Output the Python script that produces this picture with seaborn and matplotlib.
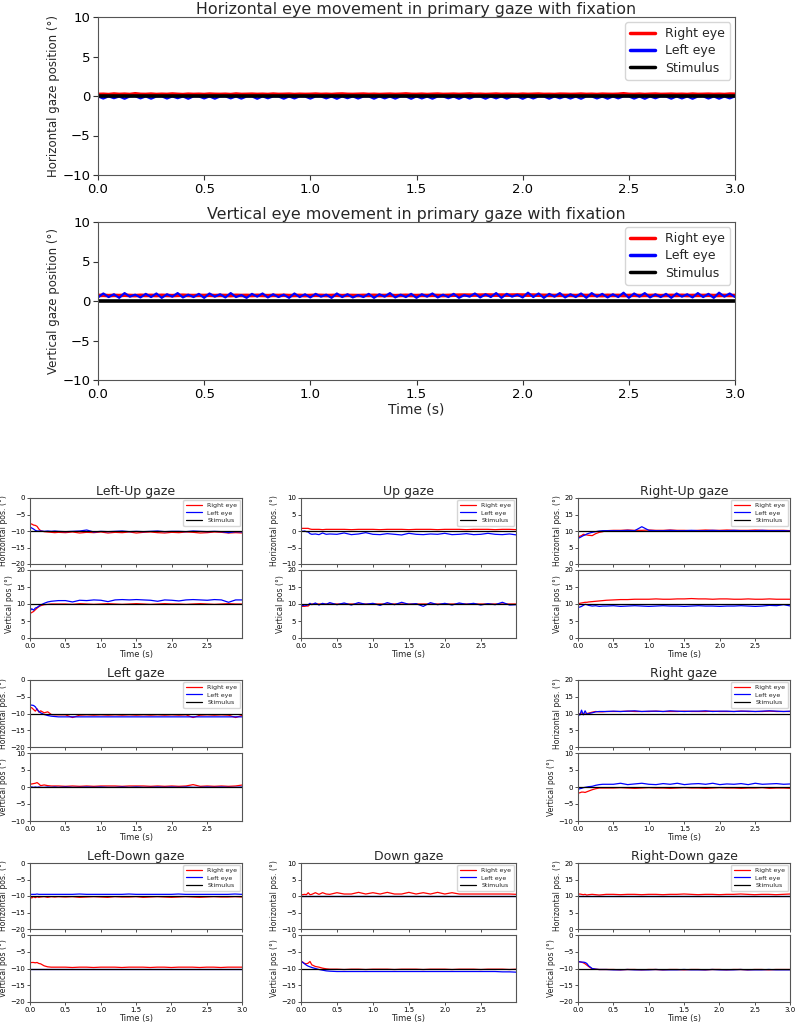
import matplotlib
matplotlib.use("Agg")
import matplotlib.pyplot as plt
import seaborn as sns

sns.set_theme(style="ticks")
plt.rcParams['font.family'] = ['DejaVu Sans']
plt.rcParams['axes.edgecolor'] = '#555555'
plt.rcParams['axes.linewidth'] = 0.8
plt.rcParams['xtick.color'] = '#333333'
plt.rcParams['ytick.color'] = '#333333'
plt.rcParams['xtick.labelcolor'] = 'black'
plt.rcParams['ytick.labelcolor'] = 'black'

# ---------------- data: primary gaze (fine time grid) ----------------
t_fine = [0.000, 0.025, 0.050, 0.075, 0.100, 0.125, 0.150, 0.175, 0.200, 0.225,
          0.250, 0.275, 0.300, 0.325, 0.350, 0.375, 0.400, 0.425, 0.450, 0.475,
          0.500, 0.525, 0.550, 0.575, 0.600, 0.625, 0.650, 0.675, 0.700, 0.725,
          0.750, 0.775, 0.800, 0.825, 0.850, 0.875, 0.900, 0.925, 0.950, 0.975,
          1.000, 1.025, 1.050, 1.075, 1.100, 1.125, 1.150, 1.175, 1.200, 1.225,
          1.250, 1.275, 1.300, 1.325, 1.350, 1.375, 1.400, 1.425, 1.450, 1.475,
          1.500, 1.525, 1.550, 1.575, 1.600, 1.625, 1.650, 1.675, 1.700, 1.725,
          1.750, 1.775, 1.800, 1.825, 1.850, 1.875, 1.900, 1.925, 1.950, 1.975,
          2.000, 2.025, 2.050, 2.075, 2.100, 2.125, 2.150, 2.175, 2.200, 2.225,
          2.250, 2.275, 2.300, 2.325, 2.350, 2.375, 2.400, 2.425, 2.450, 2.475,
          2.500, 2.525, 2.550, 2.575, 2.600, 2.625, 2.650, 2.675, 2.700, 2.725,
          2.750, 2.775, 2.800, 2.825, 2.850, 2.875, 2.900, 2.925, 2.950, 2.975,
          3.000]

prim_h_right = [0.20, 0.22, 0.18, 0.25, 0.20, 0.23, 0.19, 0.28, 0.21, 0.20,
                0.24, 0.19, 0.22, 0.20, 0.25, 0.21, 0.18, 0.23, 0.20, 0.22,
                0.19, 0.24, 0.21, 0.20, 0.22, 0.18, 0.25, 0.20, 0.21, 0.23,
                0.20, 0.22, 0.19, 0.24, 0.20, 0.21, 0.23, 0.19, 0.22, 0.20,
                0.21, 0.24, 0.20, 0.22, 0.19, 0.23, 0.25, 0.21, 0.20, 0.22,
                0.24, 0.20, 0.22, 0.19, 0.21, 0.23, 0.20, 0.22, 0.26, 0.21,
                0.20, 0.23, 0.19, 0.22, 0.24, 0.20, 0.21, 0.23, 0.20, 0.22,
                0.25, 0.20, 0.22, 0.19, 0.21, 0.24, 0.20, 0.22, 0.21, 0.19,
                0.23, 0.20, 0.22, 0.24, 0.20, 0.21, 0.19, 0.23, 0.22, 0.20,
                0.21, 0.24, 0.20, 0.22, 0.19, 0.23, 0.21, 0.20, 0.22, 0.28,
                0.21, 0.20, 0.23, 0.19, 0.22, 0.24, 0.20, 0.21, 0.23, 0.20,
                0.22, 0.19, 0.24, 0.20, 0.21, 0.23, 0.20, 0.22, 0.19, 0.24,
                0.22]
prim_h_left = [-0.05, -0.32, -0.04, -0.28, -0.06, -0.35, -0.05, -0.02, -0.30, -0.05,
               -0.34, -0.06, -0.04, -0.32, -0.05, -0.28, -0.06, -0.35, -0.04, -0.05,
               -0.31, -0.05, -0.34, -0.06, -0.04, -0.30, -0.05, -0.33, -0.06, -0.05,
               -0.35, -0.04, -0.29, -0.05, -0.06, -0.34, -0.05, -0.31, -0.04, -0.06,
               -0.33, -0.05, -0.05, -0.30, -0.06, -0.35, -0.04, -0.28, -0.05, -0.32,
               -0.06, -0.05, -0.34, -0.04, -0.30, -0.06, -0.33, -0.05, -0.05, -0.35,
               -0.04, -0.31, -0.06, -0.34, -0.05, -0.05, -0.29, -0.06, -0.35, -0.04,
               -0.32, -0.05, -0.06, -0.34, -0.05, -0.30, -0.04, -0.33, -0.06, -0.05,
               -0.35, -0.05, -0.31, -0.04, -0.06, -0.34, -0.05, -0.29, -0.05, -0.32,
               -0.06, -0.35, -0.04, -0.05, -0.31, -0.06, -0.34, -0.05, -0.30, -0.04,
               -0.05, -0.33, -0.06, -0.35, -0.05, -0.29, -0.04, -0.06, -0.34, -0.05,
               -0.31, -0.05, -0.35, -0.06, -0.04, -0.32, -0.05, -0.34, -0.06, -0.30,
               -0.05]
prim_v_right = [0.70, 0.72, 0.68, 0.71, 0.69, 0.73, 0.70, 0.68, 0.72, 0.70,
                0.71, 0.69, 0.72, 0.70, 0.68, 0.71, 0.73, 0.70, 0.69, 0.71,
                0.70, 0.72, 0.69, 0.71, 0.70, 0.68, 0.72, 0.70, 0.71, 0.69,
                0.72, 0.70, 0.68, 0.71, 0.70, 0.72, 0.69, 0.70, 0.71, 0.68,
                0.70, 0.72, 0.71, 0.69, 0.70, 0.72, 0.68, 0.71, 0.70, 0.69,
                0.71, 0.70, 0.72, 0.69, 0.70, 0.71, 0.68, 0.70, 0.72, 0.70,
                0.69, 0.71, 0.70, 0.72, 0.70, 0.69, 0.71, 0.73, 0.74, 0.75,
                0.74, 0.75, 0.74, 0.76, 0.75, 0.74, 0.75, 0.74, 0.75, 0.76,
                0.75, 0.74, 0.75, 0.73, 0.72, 0.71, 0.70, 0.72, 0.70, 0.71,
                0.69, 0.72, 0.70, 0.71, 0.70, 0.68, 0.72, 0.70, 0.71, 0.69,
                0.70, 0.72, 0.69, 0.71, 0.70, 0.72, 0.68, 0.70, 0.71, 0.70,
                0.72, 0.69, 0.70, 0.71, 0.70, 0.72, 0.69, 0.70, 0.71, 0.70,
                0.70]
prim_v_left = [0.45, 0.95, 0.50, 0.85, 0.40, 1.00, 0.55, 0.80, 0.45, 0.90,
               0.50, 0.95, 0.40, 0.85, 0.55, 1.00, 0.45, 0.80, 0.50, 0.90,
               0.40, 0.95, 0.55, 0.85, 0.45, 1.00, 0.50, 0.75, 0.40, 0.90,
               0.55, 0.95, 0.45, 0.85, 0.50, 0.80, 0.40, 0.95, 0.50, 0.85,
               0.45, 0.90, 0.55, 0.80, 0.40, 0.95, 0.50, 0.85, 0.45, 0.75,
               0.50, 0.90, 0.40, 0.85, 0.55, 1.00, 0.45, 0.80, 0.50, 0.90,
               0.40, 0.85, 0.55, 0.95, 0.45, 0.80, 0.50, 0.90, 0.40, 0.75,
               0.55, 0.95, 0.45, 0.85, 0.50, 1.00, 0.40, 0.90, 0.55, 0.80,
               0.45, 1.05, 0.50, 0.95, 0.40, 0.90, 0.55, 1.00, 0.45, 0.85,
               0.50, 0.95, 0.40, 1.00, 0.55, 0.90, 0.45, 0.85, 0.50, 1.05,
               0.40, 0.95, 0.55, 1.00, 0.45, 0.85, 0.50, 0.90, 0.40, 0.95,
               0.55, 0.85, 0.45, 1.00, 0.50, 0.90, 0.40, 1.05, 0.55, 0.95,
               0.50]
stim_time = [0.0, 3.0]
prim_stim = [0.0, 0.0]

# ---------------- data: eccentric gazes (coarser time grid) ----------------
t_s = [0.000, 0.025, 0.050, 0.075, 0.100, 0.125, 0.150, 0.200, 0.250, 0.300, 0.350, 0.400,
       0.500, 0.600, 0.700, 0.800, 0.900, 1.000, 1.100, 1.200, 1.300, 1.400,
       1.500, 1.600, 1.700, 1.800, 1.900, 2.000, 2.100, 2.200, 2.300, 2.400,
       2.500, 2.600, 2.700, 2.800, 2.900, 3.000]

# Left-Up
lu_h_r = [-7.8, -7.9, -8.2, -8.3, -8.6, -9.4, -9.9, -10.2, -10.3, -10.4, -10.5, -10.4,
          -10.5, -10.3, -10.6, -10.4, -10.5, -10.3, -10.6, -10.4, -10.5, -10.3,
          -10.6, -10.4, -10.3, -10.5, -10.6, -10.4, -10.5, -10.3, -10.4, -10.6,
          -10.5, -10.3, -10.4, -10.6, -10.5, -10.6]
lu_h_l = [-8.8, -9.1, -9.4, -9.8, -10.0, -10.0, -10.0, -10.1, -10.0, -10.1, -10.0, -10.1,
          -10.2, -10.1, -10.0, -9.7, -10.3, -10.1, -10.2, -10.1, -10.0, -10.2,
          -10.1, -10.2, -10.1, -10.0, -10.2, -10.1, -10.1, -10.2, -10.0, -10.1,
          -10.2, -10.1, -10.2, -10.5, -10.2, -10.3]
lu_v_r = [7.2, 7.5, 7.8, 8.3, 8.8, 9.2, 9.5, 9.8, 9.9, 10.0, 10.0, 10.0,
          10.0, 9.9, 10.1, 10.0, 9.9, 10.0, 10.1, 10.0, 9.9, 10.0,
          10.1, 10.0, 9.9, 10.0, 10.1, 10.0, 10.0, 9.9, 10.0, 10.1,
          10.0, 9.9, 10.0, 10.1, 10.0, 10.0]
lu_v_l = [8.0, 8.6, 8.2, 8.8, 9.0, 9.4, 9.7, 10.2, 10.6, 10.8, 10.9, 11.0,
          11.0, 10.6, 11.1, 11.0, 11.2, 11.1, 10.7, 11.2, 11.3, 11.2,
          11.3, 11.2, 11.1, 10.8, 11.2, 11.1, 10.9, 11.2, 11.3, 11.2,
          11.1, 11.3, 11.2, 10.5, 11.2, 11.2]
# Up
up_h_r = [0.8, 0.8, 0.8, 0.8, 0.8, 0.6, 0.5, 0.5, 0.5, 0.4, 0.5, 0.5,
          0.5, 0.5, 0.4, 0.5, 0.5, 0.5, 0.4, 0.5, 0.5, 0.5,
          0.4, 0.5, 0.5, 0.5, 0.4, 0.5, 0.5, 0.5, 0.4, 0.5,
          0.5, 0.5, 0.4, 0.5, 0.5, 0.4]
up_h_l = [0.0, -0.1, 0.0, -0.2, -0.3, -0.8, -1.0, -0.9, -1.1, -0.6, -1.0, -0.9,
          -1.0, -0.6, -1.1, -0.9, -0.5, -1.0, -1.1, -0.8, -1.0, -1.2,
          -0.7, -1.0, -1.1, -0.9, -1.0, -0.7, -1.1, -1.0, -0.8, -1.1,
          -1.0, -0.7, -1.0, -1.1, -0.9, -1.2]
up_v_r = [9.3, 9.3, 9.3, 9.4, 9.4, 9.9, 10.0, 10.0, 10.0, 10.0, 10.0, 10.0,
          10.0, 10.0, 10.0, 10.0, 10.0, 10.0, 10.0, 10.0, 10.0, 10.0,
          10.0, 10.0, 10.0, 10.0, 10.0, 10.0, 10.0, 10.0, 10.0, 10.0,
          10.0, 10.0, 10.0, 10.0, 10.0, 10.0]
up_v_l = [9.6, 9.5, 9.7, 9.6, 9.8, 10.2, 9.8, 10.3, 9.7, 10.2, 9.9, 10.4,
          9.8, 10.3, 9.7, 10.4, 9.9, 10.2, 9.6, 10.4, 9.8, 10.5,
          9.9, 10.1, 9.3, 10.4, 9.8, 10.2, 9.7, 10.3, 9.9, 10.2,
          9.7, 10.1, 9.8, 10.5, 9.7, 9.8]
# Right-Up
ru_h_r = [8.2, 8.4, 8.6, 9.0, 8.9, 8.8, 8.7, 8.6, 9.2, 9.6, 9.8, 10.1,
          10.2, 10.2, 10.3, 10.2, 10.2, 10.3, 10.2, 10.2, 10.3, 10.2,
          10.2, 10.1, 10.2, 10.3, 10.2, 10.2, 10.3, 10.2, 10.2, 10.2,
          10.3, 10.2, 10.2, 10.2, 10.2, 10.1]
ru_h_l = [7.8, 8.0, 8.3, 8.6, 8.8, 9.1, 9.3, 9.6, 9.8, 10.0, 10.1, 10.1,
          10.1, 10.1, 10.2, 10.1, 11.3, 10.2, 10.1, 10.1, 10.2, 10.1,
          10.1, 10.2, 10.1, 10.1, 10.2, 10.1, 10.1, 10.2, 10.1, 10.1,
          10.1, 10.2, 10.1, 10.1, 10.1, 10.0]
ru_v_r = [10.0, 10.2, 10.3, 10.4, 10.5, 10.5, 10.6, 10.7, 10.8, 10.9, 11.0, 11.1,
          11.2, 11.3, 11.3, 11.4, 11.4, 11.4, 11.5, 11.4, 11.4, 11.5,
          11.5, 11.6, 11.5, 11.5, 11.4, 11.5, 11.5, 11.4, 11.4, 11.5,
          11.4, 11.4, 11.5, 11.4, 11.4, 11.4]
ru_v_l = [9.0, 9.1, 9.3, 9.6, 9.9, 9.8, 9.6, 9.4, 9.5, 9.3, 9.4, 9.4,
          9.5, 9.3, 9.4, 9.5, 9.4, 9.3, 9.4, 9.5, 9.4, 9.4,
          9.3, 9.4, 9.5, 9.4, 9.4, 9.3, 9.4, 9.4, 9.5, 9.4,
          9.3, 9.4, 9.6, 9.5, 9.8, 9.4]
# Left
lf_h_r = [-8.2, -8.3, -8.8, -9.3, -8.6, -9.6, -9.2, -9.8, -9.5, -10.3, -10.4, -10.4,
          -10.4, -11.2, -10.5, -10.4, -10.5, -10.4, -10.5, -10.4, -10.5, -10.4,
          -10.5, -10.4, -10.5, -10.4, -10.5, -10.4, -10.5, -10.4, -11.2, -10.5,
          -10.4, -10.5, -10.4, -10.5, -11.2, -10.5]
lf_h_l = [-7.5, -7.5, -7.6, -8.0, -8.8, -9.4, -9.8, -10.3, -10.6, -10.8, -10.9, -11.0,
          -11.0, -11.0, -11.0, -11.0, -11.0, -11.0, -11.0, -11.0, -11.0, -11.0,
          -11.0, -11.0, -11.0, -11.0, -11.0, -11.0, -11.0, -11.0, -11.0, -11.0,
          -11.0, -11.0, -11.0, -11.0, -11.0, -11.0]
lf_v_r = [0.8, 0.9, 1.0, 1.1, 1.3, 0.9, 0.4, 0.6, 0.4, 0.3, 0.3, 0.3,
          0.2, 0.3, 0.2, 0.3, 0.2, 0.3, 0.3, 0.3, 0.2, 0.3,
          0.3, 0.3, 0.2, 0.3, 0.2, 0.3, 0.2, 0.3, 0.7, 0.2,
          0.3, 0.2, 0.3, 0.2, 0.3, 0.6]
lf_v_l = [0.0, 0.0, -0.1, 0.0, -0.1, 0.0, -0.1, -0.1, 0.0, -0.1, 0.0, -0.1,
          0.0, -0.1, -0.1, 0.0, -0.1, 0.0, -0.1, -0.1, 0.0, -0.1,
          0.0, -0.1, -0.1, 0.0, -0.1, 0.0, -0.1, 0.0, -0.1, -0.1,
          0.0, -0.1, 0.0, -0.1, -0.1, 0.0]
# Right
rt_h_r = [10.0, 9.8, 10.2, 9.9, 9.8, 10.0, 10.1, 10.4, 10.6, 10.5, 10.5, 10.6,
          10.6, 10.6, 10.7, 10.6, 10.6, 10.6, 10.7, 10.6, 10.6, 10.6,
          10.7, 10.6, 10.6, 10.6, 10.7, 10.6, 10.6, 10.6, 10.7, 10.6,
          10.6, 10.6, 10.7, 10.6, 10.6, 10.6]
rt_h_l = [10.2, 9.5, 11.0, 9.6, 10.8, 9.8, 10.0, 10.2, 10.5, 10.6, 10.6, 10.6,
          10.7, 10.6, 10.7, 10.8, 10.6, 10.7, 10.7, 10.6, 10.8, 10.7,
          10.6, 10.7, 10.7, 10.8, 10.6, 10.7, 10.7, 10.6, 10.7, 10.7,
          10.6, 10.7, 10.8, 10.7, 10.6, 10.7]
rt_v_r = [-1.8, -1.7, -1.5, -1.5, -1.6, -1.4, -1.2, -0.8, -0.5, -0.3, -0.3, -0.3,
          -0.3, -0.2, -0.3, -0.4, -0.3, -0.2, -0.3, -0.3, -0.4, -0.3,
          -0.2, -0.3, -0.3, -0.4, -0.3, -0.2, -0.3, -0.3, -0.4, -0.3,
          -0.3, -0.2, -0.4, -0.3, -0.3, -0.4]
rt_v_l = [-0.7, -0.5, -0.4, -0.2, -0.1, 0.0, 0.1, 0.2, 0.5, 0.7, 0.8, 0.8,
          0.8, 1.1, 0.7, 0.9, 1.1, 0.8, 0.7, 1.0, 0.8, 1.1,
          0.7, 0.9, 1.0, 0.8, 1.1, 0.7, 0.9, 0.8, 1.0, 0.7,
          1.1, 0.8, 0.9, 1.0, 0.8, 0.9]
# Left-Down
ld_h_r = [-10.3, -10.6, -10.2, -10.5, -10.2, -10.4, -10.3, -10.2, -10.4, -10.2, -10.3, -10.2,
          -10.3, -10.2, -10.4, -10.3, -10.2, -10.3, -10.4, -10.2, -10.3, -10.3,
          -10.2, -10.4, -10.3, -10.2, -10.3, -10.4, -10.3, -10.2, -10.3, -10.4,
          -10.3, -10.2, -10.3, -10.3, -10.2, -10.3]
ld_h_l = [-9.5, -9.5, -9.5, -9.5, -9.4, -9.5, -9.5, -9.5, -9.5, -9.5, -9.5, -9.5,
          -9.5, -9.5, -9.4, -9.5, -9.5, -9.5, -9.5, -9.5, -9.5, -9.4,
          -9.5, -9.5, -9.5, -9.5, -9.5, -9.5, -9.4, -9.5, -9.5, -9.5,
          -9.5, -9.5, -9.5, -9.5, -9.4, -9.5]
ld_v_r = [-8.3, -8.2, -8.2, -8.3, -8.2, -8.5, -8.6, -9.2, -9.5, -9.6, -9.6, -9.6,
          -9.6, -9.7, -9.6, -9.6, -9.7, -9.6, -9.6, -9.6, -9.7, -9.6,
          -9.6, -9.6, -9.7, -9.6, -9.6, -9.7, -9.6, -9.6, -9.6, -9.7,
          -9.6, -9.6, -9.7, -9.6, -9.6, -9.6]
ld_v_l = [-10.05, -10.05, -10.05, -10.05, -10.05, -10.05, -10.05, -10.05, -10.05, -10.05, -10.05, -10.05,
          -10.05, -10.05, -10.05, -10.05, -10.05, -10.05, -10.05, -10.05, -10.05, -10.05,
          -10.05, -10.05, -10.05, -10.05, -10.05, -10.05, -10.05, -10.05, -10.05, -10.05,
          -10.05, -10.05, -10.05, -10.05, -10.05, -10.05]
# Down
dn_h_r = [0.4, 0.4, 0.5, 0.4, 1.0, 0.4, 0.5, 1.0, 0.5, 1.0, 0.6, 0.5,
          1.0, 0.6, 0.6, 1.1, 0.6, 1.0, 0.6, 1.1, 0.6, 0.6,
          1.1, 0.6, 1.0, 0.6, 1.1, 0.6, 1.0, 0.6, 0.6, 0.6,
          0.6, 0.6, 0.6, 0.6, 0.6, 0.5]
dn_h_l = [0.1, 0.1, 0.1, 0.1, 0.1, 0.1, 0.1, 0.1, 0.1, 0.1, 0.1, 0.1,
          0.1, 0.1, 0.1, 0.1, 0.1, 0.1, 0.1, 0.1, 0.1, 0.1,
          0.1, 0.1, 0.1, 0.1, 0.1, 0.1, 0.1, 0.1, 0.1, 0.1,
          0.1, 0.1, 0.1, 0.1, 0.1, 0.1]
dn_v_r = [-7.8, -8.1, -8.5, -8.6, -8.4, -7.9, -8.9, -9.4, -9.6, -9.9, -10.1, -10.2,
          -10.2, -10.3, -10.2, -10.2, -10.3, -10.2, -10.2, -10.2, -10.3, -10.2,
          -10.2, -10.2, -10.3, -10.2, -10.2, -10.2, -10.3, -10.2, -10.2, -10.2,
          -10.3, -10.2, -10.2, -10.2, -10.3, -10.2]
dn_v_l = [-7.8, -8.2, -8.6, -9.0, -9.3, -9.5, -9.7, -10.0, -10.3, -10.5, -10.7, -10.8,
          -10.9, -10.9, -10.9, -10.9, -10.9, -10.9, -10.9, -10.9, -10.9, -10.9,
          -10.9, -10.9, -10.9, -10.9, -10.9, -10.9, -10.9, -10.9, -10.9, -10.9,
          -10.9, -10.9, -10.9, -11.0, -11.0, -11.1]
# Right-Down
rd_h_r = [10.5, 10.6, 10.5, 10.4, 10.5, 10.3, 10.4, 10.5, 10.4, 10.3, 10.4, 10.5,
          10.5, 10.4, 10.5, 10.5, 10.4, 10.5, 10.5, 10.4, 10.5, 10.5,
          10.6, 10.5, 10.4, 10.5, 10.5, 10.4, 10.5, 10.5, 10.6, 10.5,
          10.4, 10.5, 10.5, 10.4, 10.5, 10.6]
rd_h_l = [10.1, 10.1, 10.1, 10.1, 10.1, 10.1, 10.1, 10.1, 10.1, 10.1, 10.1, 10.1,
          10.1, 10.1, 10.1, 10.1, 10.1, 10.1, 10.1, 10.1, 10.1, 10.1,
          10.1, 10.1, 10.1, 10.1, 10.1, 10.1, 10.1, 10.1, 10.1, 10.1,
          10.1, 10.1, 10.1, 10.1, 10.1, 10.1]
rd_v_r = [-8.0, -8.0, -8.1, -8.3, -8.6, -9.0, -9.4, -10.1, -10.2, -10.3, -10.3, -10.3,
          -10.3, -10.4, -10.3, -10.3, -10.4, -10.3, -10.3, -10.4, -10.3, -10.3,
          -10.4, -10.3, -10.3, -10.4, -10.3, -10.3, -10.4, -10.3, -10.3, -10.4,
          -10.3, -10.3, -10.4, -10.3, -10.3, -10.3]
rd_v_l = [-8.0, -8.0, -8.1, -8.1, -8.2, -8.5, -9.2, -10.0, -10.2, -10.3, -10.3, -10.3,
          -10.4, -10.4, -10.3, -10.4, -10.4, -10.4, -10.3, -10.4, -10.4, -10.4,
          -10.3, -10.4, -10.4, -10.4, -10.3, -10.4, -10.4, -10.4, -10.3, -10.4,
          -10.4, -10.4, -10.3, -10.4, -10.4, -10.4]

labels = ['Right eye', 'Left eye', 'Stimulus']

# ---------------- figure ----------------
W, H = 796, 1025
fig = plt.figure(figsize=(W / 100, H / 100), dpi=100)


def px_axes(x0, x1, y0, y1):
    return fig.add_axes([x0 / W, 1 - y1 / H, (x1 - x0) / W, (y1 - y0) / H])


def draw(ax, t, right, left, stim_val, lw_r, lw_l, lw_s, with_label):
    sns.lineplot(x=t, y=right, ax=ax, color='red', linewidth=lw_r, estimator=None,
                 sort=False, label=labels[0] if with_label else None, legend=with_label)
    sns.lineplot(x=t, y=left, ax=ax, color='blue', linewidth=lw_l, estimator=None,
                 sort=False, label=labels[1] if with_label else None, legend=with_label)
    sns.lineplot(x=stim_time, y=stim_val, ax=ax, color='black', linewidth=lw_s,
                 estimator=None, sort=False, label=labels[2] if with_label else None,
                 legend=with_label)


# Primary gaze panels
big = [
    (17, 175, prim_h_right, prim_h_left, 'Horizontal eye movement in primary gaze with fixation',
     'Horizontal gaze position (°)', False),
    (222, 380, prim_v_right, prim_v_left, 'Vertical eye movement in primary gaze with fixation',
     'Vertical gaze position (°)', True),
]
for (y0, y1, r, l, title, ylab, show_x) in big:
    ax = px_axes(98, 735, y0, y1)
    draw(ax, t_fine, r, l, prim_stim, 2.6, 1.6, 2.6, True)
    ax.set_xticks([0.0, 0.5, 1.0, 1.5, 2.0, 2.5, 3.0])
    ax.set_yticks([-10, -5, 0, 5, 10])
    ax.set_xlim(0, 3.0)
    ax.set_ylim(-10, 10)
    ax.tick_params(labelsize=9.5, length=3.5, width=0.8, pad=2)
    ax.set_title(title, fontsize=11.4, pad=2)
    ax.set_ylabel(ylab, fontsize=8.5, labelpad=2)
    ax.set_xlabel('Time (s)' if show_x else '', fontsize=10, labelpad=1)
    leg = ax.legend(loc='upper right', fontsize=9, handlelength=2.0, borderpad=0.4,
                    labelspacing=0.35, framealpha=0.8, borderaxespad=0.4)
    for h in leg.get_lines():
        h.set_linewidth(2.5)

# Eccentric gaze panels
col_x = [(30, 242), (301, 516), (578, 790)]
row_h = [(498, 564), (680, 747), (863, 929)]
row_v = [(570, 638), (753, 821), (935, 1002)]

panels = [
    (0, 0, 'Left-Up gaze', lu_h_r, lu_h_l, [-10, -10], (-20, 0), lu_v_r, lu_v_l, [10, 10], (0, 20), 2.99),
    (1, 0, 'Up gaze', up_h_r, up_h_l, [0, 0], (-10, 10), up_v_r, up_v_l, [10, 10], (0, 20), 2.99),
    (2, 0, 'Right-Up gaze', ru_h_r, ru_h_l, [10, 10], (0, 20), ru_v_r, ru_v_l, [10, 10], (0, 20), 2.99),
    (0, 1, 'Left gaze', lf_h_r, lf_h_l, [-10, -10], (-20, 0), lf_v_r, lf_v_l, [0, 0], (-10, 10), 2.99),
    (2, 1, 'Right gaze', rt_h_r, rt_h_l, [10, 10], (0, 20), rt_v_r, rt_v_l, [0, 0], (-10, 10), 2.99),
    (0, 2, 'Left-Down gaze', ld_h_r, ld_h_l, [-10, -10], (-20, 0), ld_v_r, ld_v_l, [-10, -10], (-20, 0), 3.0),
    (1, 2, 'Down gaze', dn_h_r, dn_h_l, [0, 0], (-10, 10), dn_v_r, dn_v_l, [-10, -10], (-20, 0), 2.99),
    (2, 2, 'Right-Down gaze', rd_h_r, rd_h_l, [10, 10], (0, 20), rd_v_r, rd_v_l, [-10, -10], (-20, 0), 3.0),
]

xt_all = [0.0, 0.5, 1.0, 1.5, 2.0, 2.5, 3.0]
for (c, rrow, title, hr, hl, hs, hlim, vr, vl, vs, vlim, xmax) in panels:
    x0, x1 = col_x[c]
    xt = [v for v in xt_all if v <= xmax + 1e-9]
    # horizontal
    axh = px_axes(x0, x1, *row_h[rrow])
    draw(axh, t_s, hr, hl, hs, 0.9, 0.9, 0.9, True)
    axh.set_xticks(xt)
    axh.set_xticklabels([])
    axh.set_yticks(list(range(hlim[0], hlim[1] + 1, 5)))
    axh.set_xlim(0, xmax)
    axh.set_ylim(*hlim)
    axh.tick_params(labelsize=5, length=2, width=0.6, pad=1.5)
    axh.set_xlabel('')
    axh.set_ylabel('Horizontal pos. (°)', fontsize=5.6, labelpad=1.5)
    axh.set_title(title, fontsize=9, pad=2)
    leg = axh.legend(loc='upper right', fontsize=4.5, handlelength=2.6, borderpad=0.45,
                     labelspacing=0.35, framealpha=0.8, borderaxespad=0.3, handletextpad=0.8)
    for h in leg.get_lines():
        h.set_linewidth(0.9)
    # vertical
    axv = px_axes(x0, x1, *row_v[rrow])
    draw(axv, t_s, vr, vl, vs, 0.9, 0.9, 0.9, False)
    axv.set_xticks(xt)
    axv.set_yticks(list(range(vlim[0], vlim[1] + 1, 5)))
    axv.set_xlim(0, xmax)
    axv.set_ylim(*vlim)
    axv.tick_params(labelsize=5, length=2, width=0.6, pad=1.5)
    axv.set_xlabel('Time (s)', fontsize=6, labelpad=1)
    axv.set_ylabel('Vertical pos (°)', fontsize=5.6, labelpad=1.5)

fig.savefig('out.png', dpi=100)
